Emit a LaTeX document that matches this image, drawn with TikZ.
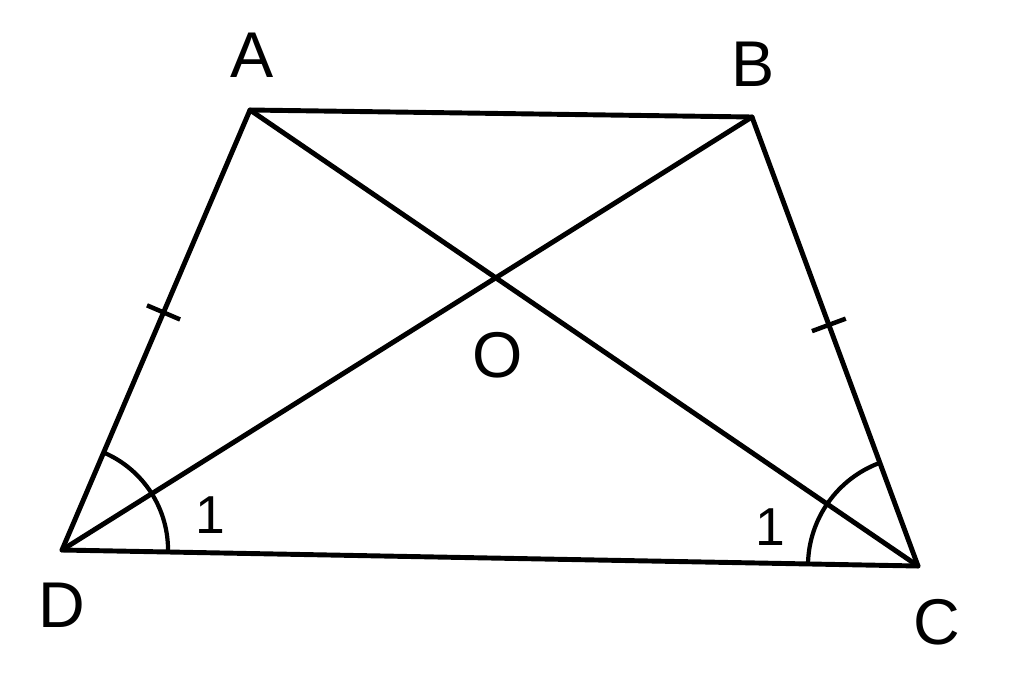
\documentclass[tikz,border=0pt]{standalone}
\usepackage{fontspec}
\setmainfont{Liberation Sans}
\usetikzlibrary{calc,angles}
\begin{document}
\begin{tikzpicture}[x=0.025cm,y=-0.025cm,
  seg/.style={line width=3.5pt,line cap=round,line join=round},
  lbl/.style={font=\fontsize{46}{50}\selectfont,inner sep=0pt},
  numlbl/.style={font=\fontsize{38}{42}\selectfont,inner sep=0pt},
  tickmark/.style={line width=3.2pt}]
\useasboundingbox[fill=white] (0,0) rectangle (1024,679);
\coordinate (A) at (250,110);
\coordinate (B) at (752,117);
\coordinate (C) at (918,566);
\coordinate (D) at (62,550);
\draw[seg] (A) -- (B) -- (C) -- (D) -- cycle;
\draw[seg] (A) -- (C);
\draw[seg] (B) -- (D);
% angle arcs
\pic[draw,line width=3pt,angle radius=2.65cm] {angle=C--D--A};
\pic[draw,line width=3pt,angle radius=2.75cm] {angle=B--C--D};
% tick marks
\coordinate (t1) at ($(D)!0.54!(A)$);
\coordinate (t2) at ($(B)!0.463!(C)$);
\draw[tickmark] ($(t1)!0.45cm!90:(A)$) -- ($(t1)!0.45cm!-90:(A)$);
\draw[tickmark] ($(t2)!0.45cm!90:(C)$) -- ($(t2)!0.45cm!-90:(C)$);
% labels
\node[lbl] (lA) at (252,55) {A};
\node[lbl] (lB) at (753,64) {B};
\node[lbl] (lC) at (937,622) {C};
\node[lbl] (lD) at (62,605) {D};
\node[lbl] (lO) at (498,355) {O};
\node[numlbl] (n1) at (210,515) {1};
\node[numlbl] (n2) at (770,527) {1};
\end{tikzpicture}
\end{document}
